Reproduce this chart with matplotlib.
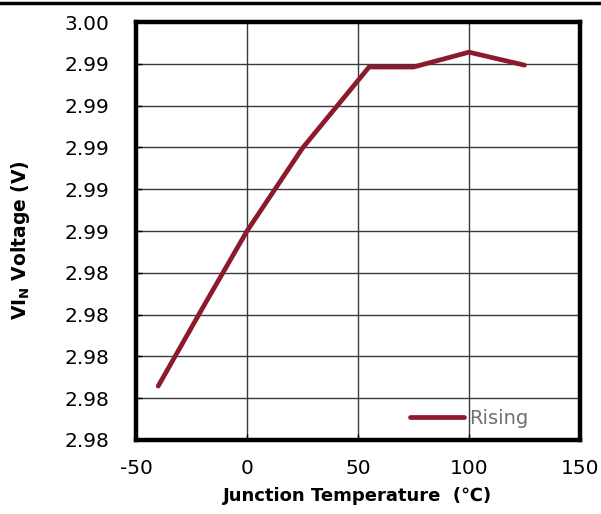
import numpy as np
import matplotlib.pyplot as plt
from matplotlib.lines import Line2D

temp = [-40, -20, 0, 25, 55, 75, 100, 125]
vin_rising = [2.97858, 2.98232, 2.98600, 2.98997, 2.99385, 2.99385, 2.99456, 2.99394]
x_ticks = [-50, 0, 50, 100, 150]
y_ticks = [2.976, 2.978, 2.980, 2.982, 2.984, 2.986, 2.988, 2.990, 2.992, 2.994, 2.996]

plt.rcParams['font.family'] = ['DejaVu Sans']
plt.rcParams['axes.unicode_minus'] = False
plt.rcParams['mathtext.fontset'] = 'custom'
plt.rcParams['mathtext.rm'] = 'DejaVu Sans'
plt.rcParams['mathtext.bf'] = 'DejaVu Sans:bold'

fig = plt.figure(figsize=(6.01, 5.14), dpi=100)
ax = fig.add_axes([0.2263, 0.144, 0.7387, 0.813])

ax.plot(temp, vin_rising, color='#8b1a2c', lw=3.4, solid_capstyle='round',
        solid_joinstyle='miter', label='Rising', zorder=3)

ax.set_xlim(-50, 150)
ax.set_ylim(2.976, 2.996)
ax.set_xticks(x_ticks)
ax.set_yticks(y_ticks)
ax.set_yticklabels(['%.2f' % v for v in y_ticks])
ax.grid(True, color='#3a3a3a', lw=1.0)
ax.set_axisbelow(True)
ax.tick_params(direction='in', length=4, width=1, labelsize=14.5)
ax.tick_params(axis='y', pad=19)
ax.tick_params(axis='x', pad=14)

for s in ax.spines.values():
    s.set_linewidth(3.2)
    s.set_color('black')

ax.set_xlabel('Junction Temperature  (℃)', fontsize=13, fontweight='bold')
ax.set_ylabel(r'VI$_\mathbf{N}$ Voltage (V)', fontsize=13.5, fontweight='bold')
ax.xaxis.set_label_coords(0.5, -0.134)
ax.yaxis.set_label_coords(-0.261, 0.478)
for lab in (ax.xaxis.label, ax.yaxis.label):
    lab.set_ha('center')
    lab.set_va('center')

leg = ax.legend(loc='center left', bbox_to_anchor=(0.617, 0.0526), frameon=False,
                fontsize=14, handlelength=2.8, handletextpad=0.25,
                borderpad=0, borderaxespad=0)
for t in leg.get_texts():
    t.set_color('#707070')

fig.add_artist(Line2D([0, 1], [0.995, 0.995], color='black', lw=2.5,
                      transform=fig.transFigure))

fig.savefig('out.png', dpi=100)
